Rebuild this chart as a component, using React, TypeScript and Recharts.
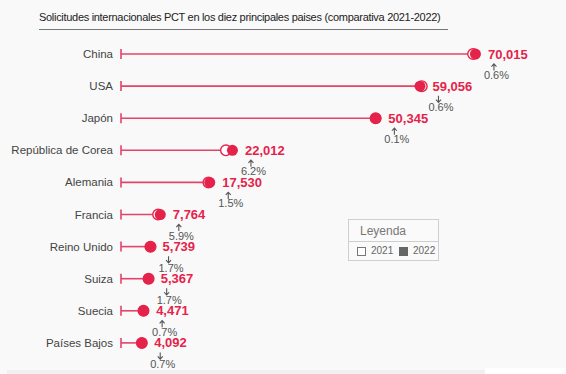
import React from 'react';
import { ComposedChart, Bar, Line, XAxis, YAxis } from 'recharts';

const countries = ['China', 'USA', 'Japón', 'República de Corea', 'Alemania', 'Francia', 'Reino Unido', 'Suiza', 'Suecia', 'Países Bajos'];
const values2022 = [70015, 59056, 50345, 22012, 17530, 7764, 5739, 5367, 4471, 4092];
const values2021 = [69540, 59412, 50295, 20727, 17271, 7331, 5838, 5460, 4440, 4121];
const changePct = ['0.6%', '0.6%', '0.1%', '6.2%', '1.5%', '5.9%', '1.7%', '1.7%', '0.7%', '0.7%'];
const changeDir = ['up', 'down', 'up', 'up', 'up', 'up', 'down', 'down', 'up', 'down'];

const title = 'Solicitudes internacionales PCT en los diez principales paises (comparativa 2021-2022)';
const legendTitle = 'Leyenda';
const legendItems = ['2021', '2022'];

const data = countries.map((c, i) => ({
  country: c,
  v2022: values2022[i],
  v2021: values2021[i],
  pct: changePct[i],
  dir: changeDir[i],
}));

const RED = '#e5234a';
const LINE_RED = '#e4436a';
const FONT = '"Liberation Sans", Arial, sans-serif';

const StemShape = (props: any) => {
  const { x, y, width, height } = props;
  const cy = y + height / 2;
  return (
    <g>
      <line x1={x} y1={cy} x2={x + width} y2={cy} stroke={LINE_RED} strokeWidth={1.6} />
      <line x1={x} y1={cy - 5} x2={x} y2={cy + 5} stroke={LINE_RED} strokeWidth={1.6} />
    </g>
  );
};

const HollowDot = (props: any) => {
  const { cx, cy, index } = props;
  if (cx == null || cy == null) return <g key={`h${index}`} />;
  return <circle key={`h${index}`} cx={cx} cy={cy} r={5.3} fill="#ffffff" stroke={RED} strokeWidth={1.4} />;
};

const FilledDot = (props: any) => {
  const { cx, cy, index, payload } = props;
  if (cx == null || cy == null) return <g key={`f${index}`} />;
  const up = payload.dir === 'up';
  const ax = cx + 18.5;
  const ay = cy + 13;
  const arrow = up
    ? `M${ax},${ay + 3.5} L${ax},${ay - 3} M${ax - 2.5},${ay - 0.5} L${ax},${ay - 3.2} L${ax + 2.5},${ay - 0.5}`
    : `M${ax},${ay - 3.5} L${ax},${ay + 3} M${ax - 2.5},${ay + 0.5} L${ax},${ay + 3.2} L${ax + 2.5},${ay + 0.5}`;
  return (
    <g key={`f${index}`}>
      <circle cx={cx} cy={cy} r={5.5} fill={RED} />
      <text x={cx + 12.5} y={cy + 4.5} fill={RED} fontSize={13} fontWeight="bold" fontFamily={FONT}>
        {Number(payload.v2022).toLocaleString('en-US')}
      </text>
      <path d={arrow} stroke="#555" strokeWidth={1.1} fill="none" />
      <text x={cx + 21} y={cy + 25} fill="#555" fontSize={11} textAnchor="middle" fontFamily={FONT}>
        {payload.pct}
      </text>
    </g>
  );
};

const CountryTick = (props: any) => {
  const { x, y, payload } = props;
  return (
    <text x={x} y={y + 4} textAnchor="end" fill="#444" fontSize={11.5} fontFamily={FONT}>
      {payload.value}
    </text>
  );
};

export default function App() {
  return (
    <div style={{ position: 'absolute', left: 0, top: 0, width: 566, height: 374, background: '#f9f9f9', fontFamily: FONT, overflow: 'hidden' }}>
      <div style={{ position: 'absolute', left: 7, top: 370, width: 478, height: 4, background: '#f0f0f0' }} />
      <div style={{ position: 'absolute', left: 485, top: 368, width: 81, height: 6, background: '#ffffff' }} />
      <div style={{ position: 'absolute', left: 39, top: 10, fontSize: 11, letterSpacing: -0.3, color: '#222', whiteSpace: 'nowrap', lineHeight: '14px' }}>
        {title}
      </div>
      <div style={{ position: 'absolute', left: 39, top: 29, width: 409, height: 1, background: '#777' }} />
      <ComposedChart
        width={566}
        height={374}
        data={data}
        layout="vertical"
        margin={{ top: 38, right: 40, bottom: 15, left: 0 }}
      >
        <XAxis type="number" hide domain={[0, 80000]} />
        <YAxis
          type="category"
          dataKey="country"
          width={121}
          axisLine={false}
          tickLine={false}
          tick={<CountryTick />}
          interval={0}
        />
        <Bar dataKey="v2022" shape={<StemShape />} isAnimationActive={false} barSize={10} />
        <Line dataKey="v2021" stroke="none" dot={HollowDot} activeDot={false} isAnimationActive={false} />
        <Line dataKey="v2022" stroke="none" dot={FilledDot} activeDot={false} isAnimationActive={false} />
      </ComposedChart>
      <div style={{ position: 'absolute', left: 348, top: 219, width: 91, height: 42, border: '1px solid #cfcfcf', background: '#fafafa', boxSizing: 'border-box' }}>
        <div style={{ position: 'absolute', left: 11, top: 4, fontSize: 12, color: '#777' }}>{legendTitle}</div>
        <div style={{ position: 'absolute', left: 0, top: 21, width: 89, height: 1, background: '#cfcfcf' }} />
        <div style={{ position: 'absolute', left: 8, top: 27, width: 9, height: 9, border: '1px solid #777', background: '#fff', boxSizing: 'border-box' }} />
        <div style={{ position: 'absolute', left: 22, top: 25, fontSize: 10, color: '#666' }}>{legendItems[0]}</div>
        <div style={{ position: 'absolute', left: 50, top: 27, width: 9, height: 9, background: '#666' }} />
        <div style={{ position: 'absolute', left: 64, top: 25, fontSize: 10, color: '#666' }}>{legendItems[1]}</div>
      </div>
    </div>
  );
}
